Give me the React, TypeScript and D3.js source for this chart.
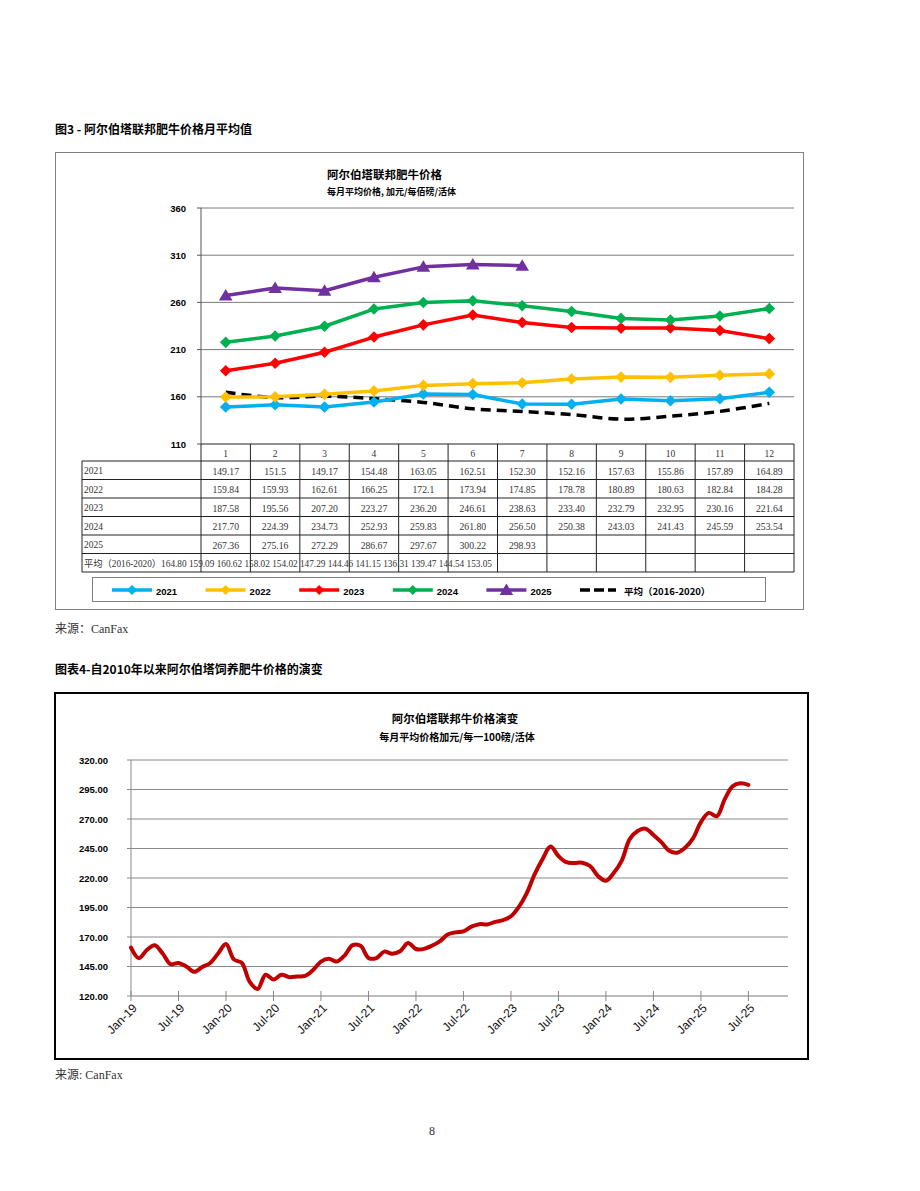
import React from "react";
import * as d3 from "d3";

// ---------- Chart 1 data (monthly averages, CAD/cwt) ----------
const months = ["1", "2", "3", "4", "5", "6", "7", "8", "9", "10", "11", "12"];
const seriesNames = ["2021", "2022", "2023", "2024", "2025"];
const t2021 = ["149.17", "151.5", "149.17", "154.48", "163.05", "162.51", "152.30", "152.16", "157.63", "155.86", "157.89", "164.89"];
const t2022 = ["159.84", "159.93", "162.61", "166.25", "172.1", "173.94", "174.85", "178.78", "180.89", "180.63", "182.84", "184.28"];
const t2023 = ["187.58", "195.56", "207.20", "223.27", "236.20", "246.61", "238.63", "233.40", "232.79", "232.95", "230.16", "221.64"];
const t2024 = ["217.70", "224.39", "234.73", "252.93", "259.83", "261.80", "256.50", "250.38", "243.03", "241.43", "245.59", "253.54"];
const t2025 = ["267.36", "275.16", "272.29", "286.67", "297.67", "300.22", "298.93"];
const avgLabel = "平均（2016-2020）";
const tAvg = ["164.80", "159.09", "160.62", "158.02", "154.02", "147.29", "144.46", "141.15", "136.31", "139.47", "144.54", "153.05"];
const yTicks1 = [110, 160, 210, 260, 310, 360];
const seriesColors = ["#00B0F0", "#FFC000", "#FF0000", "#00B050", "#7030A0"];

// ---------- Chart 2 data (Jan-19 .. Jul-25) ----------
const v2019 = [161, 152, 159, 163, 156, 147, 148, 145, 140.5, 144.5, 148, 156];
const v2020 = [164, 151, 148, 132, 126, 138, 134, 138, 136, 136.5, 137, 142];
const xTickLabels2 = ["Jan-19", "Jul-19", "Jan-20", "Jul-20", "Jan-21", "Jul-21", "Jan-22", "Jul-22", "Jan-23", "Jul-23", "Jan-24", "Jul-24", "Jan-25", "Jul-25"];
const yTicks2 = [120, 145, 170, 195, 220, 245, 270, 295, 320];

const SANS = "'Liberation Sans', 'Noto Sans CJK SC', sans-serif";
const CJK = "'Noto Sans CJK SC', 'Liberation Sans', sans-serif";
const SERIF = "'Liberation Serif', 'Noto Sans CJK SC', serif";

const diamond = (r: number) => `M0,${-r}L${r},0L0,${r}L${-r},0Z`;
const triangle = "M0,-6.5L6.8,5L-6.8,5Z";

export default function App() {
  const tables = [t2021, t2022, t2023, t2024, t2025];
  const seriesVals = tables.map((t) => t.map(Number));
  const avgVals = tAvg.map(Number);

  // chart 1 scales
  const x1 = d3.scaleBand<string>().domain(months).range([201, 794]);
  const cx = (i: number) => (x1(months[i]) as number) + x1.bandwidth() / 2;
  const y1 = d3.scaleLinear().domain([110, 360]).range([444, 208]);
  const line1 = d3.line<number>().x((_, i) => cx(i)).y((d) => y1(d));
  const avgLine = d3.line<number>().x((_, i) => cx(i)).y((d) => y1(d)).curve(d3.curveCatmullRom.alpha(0.5));

  const rowH = 18.5;
  const tableTop = 461;
  const rowCount = 6;
  const tableBottom = tableTop + rowCount * rowH;
  const bounds = months.map((m) => x1(m) as number).concat([794]);

  // chart 2 scales
  const all = [...v2019, ...v2020, ...seriesVals[0], ...seriesVals[1], ...seriesVals[2], ...seriesVals[3], ...seriesVals[4]];
  const x2 = d3.scaleLinear().domain([0, 83]).range([131, 788]);
  const y2 = d3.scaleLinear().domain([120, 320]).range([996, 760]);
  const line2 = d3.line<number>().x((_, i) => x2(i)).y((d) => y2(d)).curve(d3.curveCatmullRom.alpha(0.5));

  const legendItems = [...seriesNames.map((n, i) => ({ name: n, color: seriesColors[i], kind: i === 4 ? "tri" : "dia" })), { name: avgLabel, color: "#000", kind: "dash" }];

  return (
    <div style={{ position: "absolute", left: 0, top: 0 }}>
      <svg width={920} height={1191} style={{ display: "block", background: "#fff" }}>
        {/* ===== Figure 3 ===== */}
        <text x={55} y={128} dominantBaseline="central" fontFamily={CJK} fontWeight="bold" fontSize={12} fill="#000">
          图3 - 阿尔伯塔联邦肥牛价格月平均值
        </text>
        <rect x={55.5} y={152.5} width={748} height={457} fill="none" stroke="#7f7f7f" strokeWidth={1} />
        <text x={327} y={174} dominantBaseline="central" fontFamily={CJK} fontWeight="bold" fontSize={11.5} fill="#000">
          阿尔伯塔联邦肥牛价格
        </text>
        <text x={327} y={191} dominantBaseline="central" fontFamily={CJK} fontWeight="bold" fontSize={9} fill="#000">
          每月平均价格, 加元/每佰磅/活体
        </text>

        {/* gridlines + y axis */}
        {yTicks1.map((t) => (
          <g key={t}>
            {t > 110 && <line x1={201} x2={794} y1={y1(t)} y2={y1(t)} stroke="#7a7a7a" strokeWidth={1} />}
            <line x1={197} x2={201} y1={y1(t)} y2={y1(t)} stroke="#555" strokeWidth={1} />
            <text x={186} y={y1(t)} dominantBaseline="central" textAnchor="end" fontFamily={SANS} fontWeight="bold" fontSize={9.5} fill="#000">
              {t}
            </text>
          </g>
        ))}
        <line x1={201} x2={201} y1={208} y2={444} stroke="#555" strokeWidth={1} />

        {/* series */}
        <path d={avgLine(avgVals) as string} fill="none" stroke="#000" strokeWidth={3.5} strokeDasharray="10 6" />
        {seriesVals.map((vals, s) => (
          <g key={s}>
            <path d={line1(vals) as string} fill="none" stroke={seriesColors[s]} strokeWidth={3.5} strokeLinejoin="round" />
            {vals.map((v, i) => (
              <path key={i} d={s === 4 ? triangle : diamond(5.8)} transform={`translate(${cx(i)},${y1(v)})`} fill={seriesColors[s]} />
            ))}
          </g>
        ))}

        {/* data table */}
        <g stroke="#222" strokeWidth={1}>
          <line x1={201} x2={794} y1={444} y2={444} />
          {d3.range(rowCount + 1).map((r) => (
            <line key={r} x1={82} x2={794} y1={tableTop + r * rowH} y2={tableTop + r * rowH} />
          ))}
          <line x1={82} x2={82} y1={tableTop} y2={tableBottom} />
          {bounds.map((b, i) => (
            <line key={i} x1={b} x2={b} y1={444} y2={tableBottom} />
          ))}
        </g>
        {months.map((m, i) => (
          <text key={m} x={cx(i)} y={454} dominantBaseline="central" textAnchor="middle" fontFamily={SERIF} fontSize={9.5} fill="#333">
            {m}
          </text>
        ))}
        {tables.map((t, r) => (
          <g key={r}>
            <text x={84} y={tableTop + r * rowH + rowH / 2 + 1} dominantBaseline="central" fontFamily={SERIF} fontSize={9.5} fill="#333">
              {seriesNames[r]}
            </text>
            {t.map((s, i) => (
              <text key={i} x={cx(i)} y={tableTop + r * rowH + rowH / 2 + 1} dominantBaseline="central" textAnchor="middle" fontFamily={SERIF} fontSize={9.7} fill="#333">
                {s}
              </text>
            ))}
          </g>
        ))}
        <text x={84} y={tableTop + 5 * rowH + rowH / 2 + 1} dominantBaseline="central" fontFamily={SERIF} fontSize={9.5} fill="#333" textLength={408} lengthAdjust="spacingAndGlyphs">
          {avgLabel + tAvg.join(" ")}
        </text>

        {/* legend */}
        <rect x={92.5} y={577.5} width={673} height={24} fill="none" stroke="#7f7f7f" strokeWidth={1} />
        {legendItems.map((it, i) => {
          const tx = 156 + i * 93.6;
          const ly = 590;
          return (
            <g key={it.name}>
              {it.kind === "dash" ? (
                <line x1={tx - 44} x2={tx - 8} y1={ly} y2={ly} stroke="#000" strokeWidth={3.5} strokeDasharray="10 4" />
              ) : (
                <line x1={tx - 44} x2={tx - 4} y1={ly} y2={ly} stroke={it.color} strokeWidth={3.5} />
              )}
              {it.kind === "dia" && <path d={diamond(5)} transform={`translate(${tx - 24},${ly})`} fill={it.color} />}
              {it.kind === "tri" && <path d={triangle} transform={`translate(${tx - 24},${ly})`} fill={it.color} />}
              <text x={tx} y={ly + 1} dominantBaseline="central" fontFamily={it.kind === "dash" ? CJK : SANS} fontWeight="bold" fontSize={9.5} fill="#000">
                {it.name}
              </text>
            </g>
          );
        })}

        <text x={55} y={629} dominantBaseline="central" fontFamily={SERIF} fontSize={12} fill="#333">
          来源：CanFax
        </text>

        {/* ===== Figure 4 ===== */}
        <text x={55} y={668} dominantBaseline="central" fontFamily={CJK} fontWeight="bold" fontSize={12} fill="#000">
          图表4-自2010年以来阿尔伯塔饲养肥牛价格的演变
        </text>
        <rect x={55} y={693} width={753} height={366} fill="none" stroke="#000" strokeWidth={2} />
        <text x={455} y={718} dominantBaseline="central" textAnchor="middle" fontFamily={CJK} fontWeight="bold" fontSize={11.5} fill="#000">
          阿尔伯塔联邦牛价格演变
        </text>
        <text x={457} y={736} dominantBaseline="central" textAnchor="middle" fontFamily={CJK} fontWeight="bold" fontSize={10} fill="#000">
          每月平均价格加元/每一100磅/活体
        </text>
        {yTicks2.map((t) => (
          <g key={t}>
            <line x1={131} x2={788} y1={y2(t)} y2={y2(t)} stroke={t === 120 ? "#a6a6a6" : "#8a8a8a"} strokeWidth={t === 120 ? 1.5 : 1} />
            <line x1={127} x2={131} y1={y2(t)} y2={y2(t)} stroke="#888" strokeWidth={1} />
            <text x={108} y={y2(t)} dominantBaseline="central" textAnchor="end" fontFamily={SANS} fontWeight="bold" fontSize={9.5} fill="#000">
              {t.toFixed(2)}
            </text>
          </g>
        ))}
        <line x1={131} x2={131} y1={760} y2={996} stroke="#888" strokeWidth={1} />
        {xTickLabels2.map((lab, i) => {
          const xx = x2(i * 6);
          return (
            <g key={lab}>
              <line x1={xx} x2={xx} y1={991} y2={1001} stroke="#888" strokeWidth={1} />
              <text transform={`translate(${xx + 4},${1006}) rotate(-45)`} textAnchor="end" dominantBaseline="central" fontFamily={SANS} fontSize={12} fill="#111">
                {lab}
              </text>
            </g>
          );
        })}
        <path d={line2(all) as string} fill="none" stroke="#C00000" strokeWidth={4} strokeLinecap="round" strokeLinejoin="round" />

        <text x={55} y={1075} dominantBaseline="central" fontFamily={SERIF} fontSize={12} fill="#333">
          来源: CanFax
        </text>
        <text x={432} y={1131} dominantBaseline="central" textAnchor="middle" fontFamily={SERIF} fontSize={12} fill="#333">
          8
        </text>
      </svg>
    </div>
  );
}
